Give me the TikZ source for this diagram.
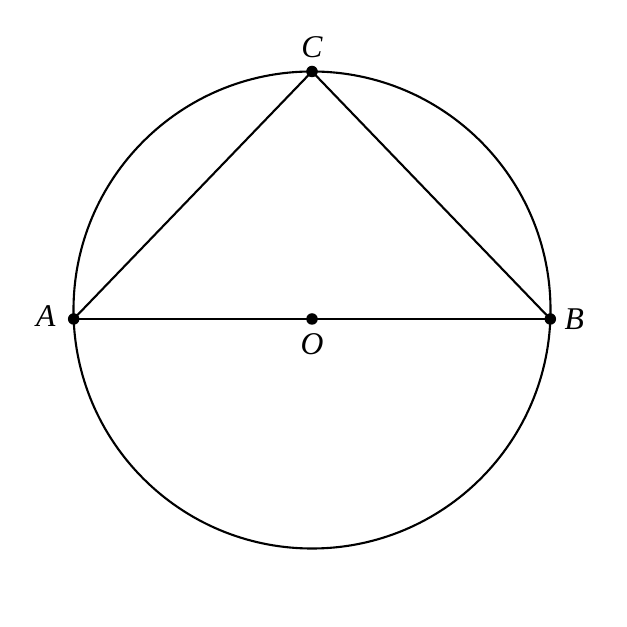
\documentclass[tikz,border=0pt]{standalone}
\usepackage{fontspec}
\setmainfont{Liberation Serif}
\usetikzlibrary{positioning,calc}
\begin{document}
\begin{tikzpicture}[
        pt/.style={circle, fill=black, inner sep=0pt, minimum size=0.23cm},
        lbl/.style={font=\fontsize{18}{18}\selectfont\itshape, inner sep=1pt},
        edge/.style={line width=1.2pt}
    ]
        \useasboundingbox (0,0) rectangle (12.54,12.54);
        \coordinate (c) at (6.24,6.34);
        \draw[edge] (c) circle (4.77);

        \node[pt] (A) at ($(c)+({180+asin(0.18/4.77)}:4.77)$) {};
        \node[pt] (B) at ($(c)+({-asin(0.18/4.77)}:4.77)$) {};
        \node[pt] (C) at ($(c)+(90:4.77)$) {};
        \node[pt] (O) at ($(A)!0.5!(B)$) {};

        \draw[edge] (A.center) -- (B.center);
        \draw[edge] (A.center) -- (C.center);
        \draw[edge] (C.center) -- (B.center);

        \node[lbl, left=0.2cm of A, yshift=0.05cm] (lA) {A};
        \node[lbl, right=0.12cm of B] (lB) {B};
        \node[lbl, above=0.1cm of C] (lC) {C};
        \node[lbl, below=0.12cm of O] (lO) {O};
    \end{tikzpicture}
\end{document}
